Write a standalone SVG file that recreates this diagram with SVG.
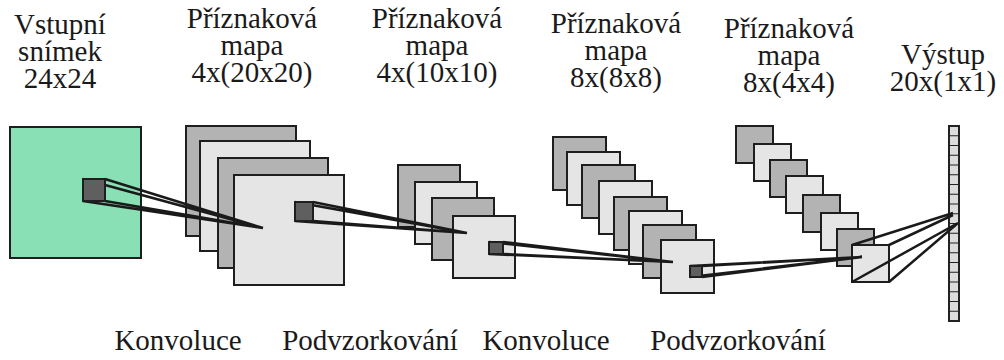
<svg xmlns="http://www.w3.org/2000/svg" width="1004" height="360" viewBox="0 0 1004 360">
<style>
.sq{stroke:#1e1e1e;stroke-width:2}
.d{fill:#b3b3b3}
.l{fill:#e5e5e5}
.k{fill:#5f5f5f;stroke:#1e1e1e;stroke-width:2}
.ln{stroke:#1a1a1a;stroke-width:2.5;fill:none}
</style>
<g id="input">
<rect class="sq" x="10" y="127" width="131" height="131" fill="#8ae0b5"/>
</g>
<g id="fm1">
<rect class="sq d" x="186" y="126" width="110" height="110"/>
<rect class="sq l" x="200" y="141" width="110" height="110"/>
<rect class="sq d" x="218" y="158" width="110" height="110"/>
<rect class="sq l" x="234" y="175" width="110" height="110"/>
</g>
<g id="fm2">
<rect class="sq d" x="398" y="165" width="62" height="62"/>
<rect class="sq l" x="415" y="182" width="62" height="62"/>
<rect class="sq d" x="432" y="198" width="62" height="62"/>
<rect class="sq l" x="453" y="216" width="62" height="62"/>
</g>
<g id="fm3">
<rect class="sq d" x="553" y="137" width="53" height="53"/>
<rect class="sq l" x="567" y="152" width="53" height="53"/>
<rect class="sq d" x="582" y="165" width="53" height="53"/>
<rect class="sq l" x="599" y="181" width="53" height="53"/>
<rect class="sq d" x="614" y="197" width="53" height="53"/>
<rect class="sq l" x="629" y="211" width="53" height="53"/>
<rect class="sq d" x="643" y="225" width="53" height="53"/>
<rect class="sq l" x="661" y="240" width="53" height="53"/>
</g>
<g id="fm4">
<rect class="sq d" x="736" y="126" width="37" height="37"/>
<rect class="sq l" x="754" y="144" width="37" height="37"/>
<rect class="sq d" x="770" y="160" width="37" height="37"/>
<rect class="sq l" x="786" y="176" width="37" height="37"/>
<rect class="sq d" x="803" y="195" width="37" height="37"/>
<rect class="sq l" x="821" y="213" width="37" height="37"/>
<rect class="sq d" x="837" y="229" width="37" height="37"/>
<rect class="sq l" x="852" y="245" width="37" height="37"/>
</g>
<g id="output">
<rect x="949" y="126" width="10" height="195" fill="#dcdcdc" stroke="#222" stroke-width="2"/>
<path d="M949 135.75h10M949 145.5h10M949 155.25h10M949 165h10M949 174.75h10M949 184.5h10M949 194.25h10M949 204h10M949 213.75h10M949 223.5h10M949 233.25h10M949 243h10M949 252.75h10M949 262.5h10M949 272.25h10M949 282h10M949 291.75h10M949 301.5h10M949 311.25h10" stroke="#222" stroke-width="1.2"/>
</g>
<g id="connectors">
<path class="ln" d="M83 179L263 228M105 179L263 228M83 201L263 228M105 201L263 228"/>
<path class="ln" d="M295 202L467 233M313 202L467 233M295 221L467 233M313 221L467 233"/>
<path class="ln" d="M489 242L673 262M503 242L673 262M489 254L673 262M503 254L673 262"/>
<path class="ln" d="M690 266L862 257M702 266L862 257M690 277L862 257M702 277L862 257"/>
<path class="ln" d="M852 245L953 213M889 245L953 215M852 282L958 223M889 282L958 223"/>
</g>
<g id="kernels">
<rect class="k" x="83" y="179" width="22" height="22"/>
<rect class="k" x="295" y="202" width="18" height="19"/>
<rect class="k" x="489" y="242" width="14" height="12"/>
<rect class="k" x="690" y="266" width="12" height="11"/>
</g>
<g id="labels" font-family="'Liberation Serif', Tinos, 'Times New Roman', 'DejaVu Serif', 'Noto Serif', serif" font-size="29" fill="#1a1a1a" text-anchor="middle">
<text x="60" y="34">Vstupní</text>
<text x="60" y="61">snímek</text>
<text x="60" y="88">24x24</text>
<text x="252" y="28">Příznaková</text>
<text x="252" y="55">mapa</text>
<text x="252" y="82">4x(20x20)</text>
<text x="437" y="28">Příznaková</text>
<text x="437" y="55">mapa</text>
<text x="437" y="82">4x(10x10)</text>
<text x="616" y="33">Příznaková</text>
<text x="616" y="60">mapa</text>
<text x="616" y="87">8x(8x8)</text>
<text x="789" y="38">Příznaková</text>
<text x="789" y="65">mapa</text>
<text x="789" y="92">8x(4x4)</text>
<text x="943" y="64">Výstup</text>
<text x="943" y="91">20x(1x1)</text>
<text x="178" y="350">Konvoluce</text>
<text x="370" y="350">Podvzorkování</text>
<text x="546" y="350">Konvoluce</text>
<text x="738" y="350">Podvzorkování</text>
</g>
</svg>
